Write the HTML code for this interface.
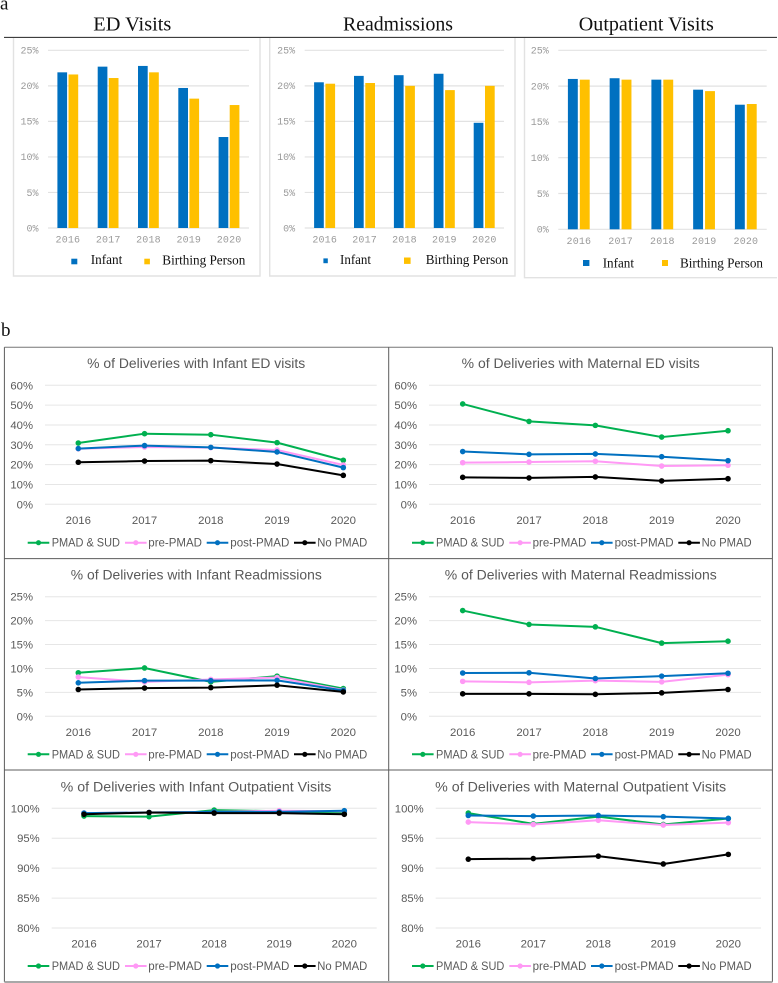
<!DOCTYPE html>
<html lang="en">
<head>
<meta charset="utf-8">
<title>Healthcare utilization charts</title>
<style>
html,body{margin:0;padding:0;background:#fff;width:778px;height:983px;overflow:hidden}
svg{display:block;filter:blur(0.3px)}
.serif{font-family:"Liberation Serif",serif;fill:#111}
.mono{font-family:"Liberation Mono",monospace;fill:#9a9a9a;font-size:10px}
.sans{font-family:"Liberation Sans",sans-serif;fill:#595959}
.ltitle{font-size:13.5px}
.lleg{font-size:11.5px}
</style>
</head>
<body>
<svg id="figure" xmlns="http://www.w3.org/2000/svg" width="778" height="983" viewBox="0 0 778 983">
  <rect width="778" height="983" fill="#fff"/>
  <text class="serif" x="0" y="9.5" font-size="19">a</text>
  <text class="serif" x="1" y="336" font-size="19">b</text>

  <g fill="none" stroke="#e2e2e2" stroke-width="1.4">
    <path d="M13.5 38V276H260V38"/>
    <path d="M269.7 38V276H515V38"/>
    <path d="M524.5 38V277.7H777"/>
  </g>
  <line x1="4" y1="37.4" x2="777" y2="37.4" stroke="#222" stroke-width="1"/>

  <text class="serif" x="132.3" y="30.5" font-size="19.5" text-anchor="middle" textLength="78" lengthAdjust="spacingAndGlyphs">ED Visits</text>
  <text class="serif" x="398" y="30.5" font-size="19.5" text-anchor="middle" textLength="110" lengthAdjust="spacingAndGlyphs">Readmissions</text>
  <text class="serif" x="646.3" y="30.5" font-size="19.5" text-anchor="middle" textLength="135" lengthAdjust="spacingAndGlyphs">Outpatient Visits</text>

  <g id="bar-ed"></g>
  <g id="bar-readmissions"></g>
  <g id="bar-outpatient"></g>

  <g>
    <rect x="71.3" y="258.7" width="6" height="5.6" fill="#0070c0"/>
    <text class="serif" x="90.7" y="264" font-size="13.5" textLength="31.6" lengthAdjust="spacingAndGlyphs">Infant</text>
    <rect x="144.3" y="258.7" width="5.6" height="5.6" fill="#ffc000"/>
    <text class="serif" x="162.3" y="264.5" font-size="13.5" textLength="83" lengthAdjust="spacingAndGlyphs">Birthing Person</text>
  </g>
  <g>
    <rect x="323.4" y="258.4" width="4.4" height="4.8" fill="#0070c0"/>
    <text class="serif" x="340" y="264" font-size="13.5" textLength="31" lengthAdjust="spacingAndGlyphs">Infant</text>
    <rect x="404" y="257.5" width="6.6" height="6.4" fill="#ffc000"/>
    <text class="serif" x="425.7" y="264" font-size="13.5" textLength="82.6" lengthAdjust="spacingAndGlyphs">Birthing Person</text>
  </g>
  <g>
    <rect x="583" y="260" width="6.4" height="6" fill="#0070c0"/>
    <text class="serif" x="602.7" y="267.5" font-size="13.5" textLength="31.3" lengthAdjust="spacingAndGlyphs">Infant</text>
    <rect x="662" y="260" width="6" height="6" fill="#ffc000"/>
    <text class="serif" x="680" y="267.5" font-size="13.5" textLength="83" lengthAdjust="spacingAndGlyphs">Birthing Person</text>
  </g>

  <g fill="none" stroke="#5c5c5c" stroke-width="1">
    <line x1="4.4" y1="347.3" x2="772.4" y2="347.3" stroke="#777"/>
    <line x1="4.4" y1="558.6" x2="772.4" y2="558.6"/>
    <line x1="4.4" y1="770" x2="772.4" y2="770"/>
    <line x1="4.4" y1="347.3" x2="4.4" y2="982"/>
    <line x1="388.7" y1="347.3" x2="388.7" y2="982"/>
    <line x1="772.4" y1="347.3" x2="772.4" y2="982"/>
    <line x1="4.4" y1="982" x2="772.4" y2="982" stroke="#a8a8a8" stroke-width="2"/>
  </g>

  <text class="sans ltitle" x="196.2" y="367.8" text-anchor="middle" textLength="218" lengthAdjust="spacingAndGlyphs">% of Deliveries with Infant ED visits</text>
  <text class="sans ltitle" x="580.7" y="367.8" text-anchor="middle" textLength="238" lengthAdjust="spacingAndGlyphs">% of Deliveries with Maternal ED visits</text>
  <text class="sans ltitle" x="196.3" y="579.5" text-anchor="middle" textLength="251" lengthAdjust="spacingAndGlyphs">% of Deliveries with Infant Readmissions</text>
  <text class="sans ltitle" x="580.8" y="579.5" text-anchor="middle" textLength="272" lengthAdjust="spacingAndGlyphs">% of Deliveries with Maternal Readmissions</text>
  <text class="sans ltitle" x="196" y="791.5" text-anchor="middle" textLength="270.7" lengthAdjust="spacingAndGlyphs">% of Deliveries with Infant Outpatient Visits</text>
  <text class="sans ltitle" x="580.7" y="791.5" text-anchor="middle" textLength="291" lengthAdjust="spacingAndGlyphs">% of Deliveries with Maternal Outpatient Visits</text>

  <g id="line-infant-ed"></g>
  <g id="line-maternal-ed"></g>
  <g id="line-infant-readmissions"></g>
  <g id="line-maternal-readmissions"></g>
  <g id="line-infant-outpatient"></g>
  <g id="line-maternal-outpatient"></g>
</svg>

<script>
// ---- Data ----
const years = ["2016", "2017", "2018", "2019", "2020"];
const barTicks = [0, 5, 10, 15, 20, 25];
const edTicks = [0, 10, 20, 30, 40, 50, 60];
const readmitTicks = [0, 5, 10, 15, 20, 25];
const outpatientTicks = [80, 85, 90, 95, 100];
const seriesNames = ["PMAD & SUD", "pre-PMAD", "post-PMAD", "No PMAD"];

const edVisitsInfant = [21.9, 22.7, 22.8, 19.7, 12.8];
const edVisitsBirthing = [21.6, 21.1, 21.9, 18.2, 17.3];
const readmissionsInfant = [20.5, 21.4, 21.5, 21.7, 14.8];
const readmissionsBirthing = [20.3, 20.4, 20.0, 19.4, 20.0];
const outpatientInfant = [21.0, 21.1, 20.9, 19.5, 17.4];
const outpatientBirthing = [20.9, 20.9, 20.9, 19.3, 17.5];

const infantEdSud = [30.9, 35.6, 35.1, 31.1, 22.2];
const infantEdPre = [28.0, 28.9, 28.6, 27.4, 19.8];
const infantEdPost = [28.1, 29.6, 28.7, 26.4, 18.5];
const infantEdNone = [21.2, 21.8, 22.0, 20.3, 14.6];

const maternalEdSud = [50.6, 41.8, 39.8, 33.9, 37.1];
const maternalEdPre = [21.0, 21.3, 21.7, 19.3, 19.7];
const maternalEdPost = [26.6, 25.2, 25.4, 24.0, 22.0];
const maternalEdNone = [13.6, 13.3, 13.8, 11.8, 12.9];

const infantReadmitSud = [9.1, 10.1, 7.2, 8.4, 5.8];
const infantReadmitPre = [8.2, 7.2, 7.7, 8.1, 5.5];
const infantReadmitPost = [7.0, 7.45, 7.45, 7.5, 5.4];
const infantReadmitNone = [5.6, 5.9, 6.0, 6.5, 5.1];

const maternalReadmitSud = [22.1, 19.2, 18.7, 15.3, 15.7];
const maternalReadmitPre = [7.3, 7.1, 7.45, 7.2, 8.7];
const maternalReadmitPost = [9.05, 9.1, 7.9, 8.4, 9.0];
const maternalReadmitNone = [4.7, 4.7, 4.6, 4.9, 5.6];

const infantOutpatientSud = [98.7, 98.6, 99.7, 99.5, 99.3];
const infantOutpatientPre = [99.2, 99.3, 99.4, 99.6, 99.5];
const infantOutpatientPost = [99.2, 99.3, 99.4, 99.4, 99.6];
const infantOutpatientNone = [99.0, 99.3, 99.2, 99.2, 99.0];

const maternalOutpatientSud = [99.2, 97.4, 98.6, 97.3, 98.3];
const maternalOutpatientPre = [97.7, 97.3, 98.0, 97.2, 97.6];
const maternalOutpatientPost = [98.8, 98.7, 98.8, 98.6, 98.3];
const maternalOutpatientNone = [91.5, 91.6, 92.0, 90.7, 92.3];

// ---- Rendering ----
const NS = "http://www.w3.org/2000/svg";
const seriesColors = ["#00b050", "#ff99f5", "#0070c0", "#000000"];

function make(parent, tag, attrs, text) {
  const node = document.createElementNS(NS, tag);
  for (const key in attrs) node.setAttribute(key, attrs[key]);
  if (text !== undefined) node.textContent = text;
  parent.appendChild(node);
  return node;
}
function scaleLinear(d0, d1, r0, r1) {
  return function (v) { return r0 + (v - d0) * (r1 - r0) / (d1 - d0); };
}
function scaleBand(count, first, last) {
  return function (i) { return first + i * (last - first) / (count - 1); };
}
function slug(s) {
  return s.toLowerCase().replace(/[^a-z0-9]+/g, "-");
}

function drawBarChart(id, infant, birthing, box) {
  const root = document.getElementById(id);
  const y = scaleLinear(0, 25, box.bottom, box.top);
  const x = scaleBand(years.length, box.first, box.last);
  barTicks.forEach(function (t) {
    const grid = make(root, "line", { x1: box.left, x2: box.right, y1: y(t), y2: y(t), stroke: "#e2e2e2", "stroke-width": 1.2 });
    
    
    const label = make(root, "text", { x: box.left - 9.5, y: y(t) + 3.3, "text-anchor": "end", class: "mono" }, t + "%");
    
    
  });
  years.forEach(function (yr, i) {
    const label = make(root, "text", { x: x(i), y: box.bottom + 14.5, "text-anchor": "middle", class: "mono", textLength: 24.5, lengthAdjust: "spacing" }, yr);
    
    
    const a = make(root, "rect", { x: x(i) - box.barW - box.gap / 2, y: y(infant[i]), width: box.barW, height: y(0) - y(infant[i]), fill: "#0070c0" });
    
    
    const b = make(root, "rect", { x: x(i) + box.gap / 2, y: y(birthing[i]), width: box.barW, height: y(0) - y(birthing[i]), fill: "#ffc000" });
    
    
  });
}

function drawLineChart(id, series, ticks, box) {
  const root = document.getElementById(id);
  const y = scaleLinear(ticks[0], ticks[ticks.length - 1], box.bottom, box.top);
  const x = scaleBand(years.length, box.first, box.last);
  ticks.forEach(function (t) {
    const grid = make(root, "line", { x1: box.left, x2: box.right, y1: y(t), y2: y(t), stroke: "#e6e6e6", "stroke-width": 1 });
    
    
    const label = make(root, "text", { x: box.left - 12, y: y(t) + 4, "text-anchor": "end", class: "sans", "font-size": 11.3 }, t + "%");
    
    
  });
  years.forEach(function (yr, i) {
    const label = make(root, "text", { x: x(i), y: box.bottom + 19.5, "text-anchor": "middle", class: "sans", "font-size": 11.4 }, yr);
    
    
  });
  series.forEach(function (values, s) {
    const points = values.map(function (v, i) { return x(i).toFixed(2) + "," + y(v).toFixed(2); }).join(" ");
    const line = make(root, "polyline", { points: points, fill: "none", stroke: seriesColors[s], "stroke-width": 2, "stroke-linejoin": "round" });
    
    
    values.forEach(function (v, i) {
      const dot = make(root, "circle", { cx: x(i), cy: y(v), r: 2.8, fill: seriesColors[s] });
      
      
    });
  });
  drawLegend(root, box.offsetX, box.legendY);
}

function drawLegend(root, dx, ly) {
  const lineStart = [27.7, 125, 206.7, 294];
  const textStart = [51.7, 148.3, 230.3, 317.3];
  const textWidth = [68.3, 53.7, 59, 50];
  seriesNames.forEach(function (name, s) {
    const x0 = lineStart[s] + dx;
    const entry = make(root, "g", {});
    
    
    const key = make(entry, "line", { x1: x0, x2: x0 + 21.6, y1: ly, y2: ly, stroke: seriesColors[s], "stroke-width": 2 });
    
    
    const dot = make(entry, "circle", { cx: x0 + 10.8, cy: ly, r: 2.6, fill: seriesColors[s] });
    
    
    const label = make(entry, "text", { x: textStart[s] + dx, y: ly + 4, class: "sans lleg", textLength: textWidth[s], lengthAdjust: "spacingAndGlyphs" }, name);
    
    
  });
}

drawBarChart("bar-ed", edVisitsInfant, edVisitsBirthing,
  { left: 48, right: 249, top: 50.3, bottom: 228, first: 67.8, last: 229, barW: 9.7, gap: 1.4 });
drawBarChart("bar-readmissions", readmissionsInfant, readmissionsBirthing,
  { left: 304.7, right: 504, top: 50.3, bottom: 228, first: 324.6, last: 484.2, barW: 9.7, gap: 1.6 });
drawBarChart("bar-outpatient", outpatientInfant, outpatientBirthing,
  { left: 558.3, right: 766.7, top: 50.3, bottom: 229.3, first: 578.8, last: 745.8, barW: 9.9, gap: 2 });

drawLineChart("line-infant-ed", [infantEdSud, infantEdPre, infantEdPost, infantEdNone], edTicks,
  { left: 45, right: 376.7, top: 385.3, bottom: 504.3, first: 78.3, last: 343.3, offsetX: 0, legendY: 542.7 });
drawLineChart("line-maternal-ed", [maternalEdSud, maternalEdPre, maternalEdPost, maternalEdNone], edTicks,
  { left: 429, right: 761, top: 385.3, bottom: 504.3, first: 462.7, last: 728, offsetX: 384.3, legendY: 542.7 });
drawLineChart("line-infant-readmissions", [infantReadmitSud, infantReadmitPre, infantReadmitPost, infantReadmitNone], readmitTicks,
  { left: 45, right: 376.7, top: 596.7, bottom: 716.3, first: 78.3, last: 343.3, offsetX: 0, legendY: 754.3 });
drawLineChart("line-maternal-readmissions", [maternalReadmitSud, maternalReadmitPre, maternalReadmitPost, maternalReadmitNone], readmitTicks,
  { left: 429, right: 761, top: 596.7, bottom: 716.3, first: 462.7, last: 728, offsetX: 384.3, legendY: 754.3 });
drawLineChart("line-infant-outpatient", [infantOutpatientSud, infantOutpatientPre, infantOutpatientPost, infantOutpatientNone], outpatientTicks,
  { left: 51.7, right: 376.7, top: 808.3, bottom: 928, first: 84, last: 344.3, offsetX: 0, legendY: 966 });
drawLineChart("line-maternal-outpatient", [maternalOutpatientSud, maternalOutpatientPre, maternalOutpatientPost, maternalOutpatientNone], outpatientTicks,
  { left: 435.7, right: 761, top: 808.3, bottom: 928, first: 468.3, last: 728.3, offsetX: 384.3, legendY: 966 });
</script>
</body>
</html>
